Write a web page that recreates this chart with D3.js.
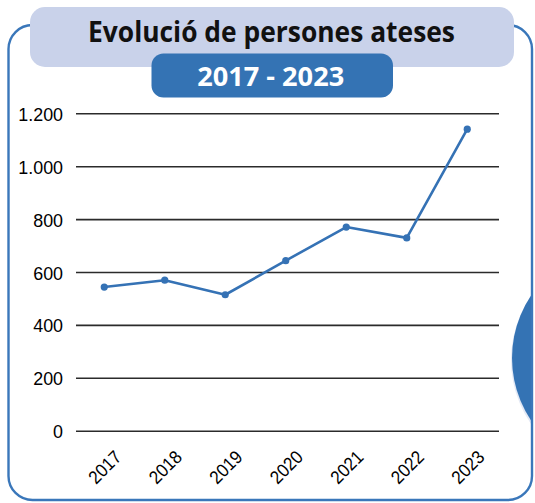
<!DOCTYPE html>
<html>
<head>
<meta charset="utf-8">
<script src="https://cdn.jsdelivr.net/npm/d3@7"></script>
<style>
  html, body { margin: 0; padding: 0; background: #ffffff; }
  svg { display: block; }
</style>
</head>
<body>
<svg id="chart" width="535" height="503"></svg>
<script>
// ---- Data ----
const titleText = "Evolució de persones ateses";
const subtitleText = "2017 - 2023";
const years = ["2017", "2018", "2019", "2020", "2021", "2022", "2023"];
const persons = [543, 569, 514, 643, 770, 729, 1140];
const yTicks = [0, 200, 400, 600, 800, 1000, 1200];

// ---- Setup ----
const svg = d3.select("#chart");
const W = 535, H = 503;
const blue = "#3473b4";
const lavender = "#c9d2ea";

const caLocale = d3.formatLocale({ decimal: ",", thousands: ".", grouping: [3], currency: ["", " €"] });
const fmt = caLocale.format(",d");

// Decorative circle on the right edge
const deco = svg.append("g");
deco.append("clipPath").attr("id", "clipR")
  .append("rect").attr("x", 0).attr("y", 0).attr("width", 532).attr("height", H);
deco.append("circle").attr("cx", 623).attr("cy", 360).attr("r", 112)
  .attr("fill", "#e3e9f5").attr("clip-path", "url(#clipR)");
deco.append("circle").attr("cx", 624).attr("cy", 358).attr("r", 112)
  .attr("fill", blue).attr("clip-path", "url(#clipR)");

// Outer frame
svg.append("rect")
  .attr("x", 8.5).attr("y", 25).attr("width", 523.5).attr("height", 475)
  .attr("rx", 24).attr("ry", 24)
  .attr("fill", "none").attr("stroke", "#3a77ba").attr("stroke-width", 2.4);

// Title box
svg.append("rect")
  .attr("x", 30).attr("y", 7).attr("width", 484).attr("height", 60)
  .attr("rx", 15).attr("ry", 15).attr("fill", lavender);
svg.append("text")
  .attr("x", 271.5).attr("y", 41.5)
  .attr("text-anchor", "middle")
  .style("font-family", "'Open Sans', 'Noto Sans', sans-serif")
  .style("font-weight", "bold").style("font-size", "28px")
  .attr("textLength", 367).attr("lengthAdjust", "spacingAndGlyphs")
  .attr("fill", "#111").text(titleText);

// Subtitle box
svg.append("rect")
  .attr("x", 151.5).attr("y", 53.5).attr("width", 241.5).attr("height", 44)
  .attr("rx", 12).attr("ry", 12).attr("fill", blue);
svg.append("text")
  .attr("x", 270.7).attr("y", 85.7)
  .attr("text-anchor", "middle")
  .style("font-family", "'Open Sans', 'Noto Sans', sans-serif")
  .style("font-weight", "bold").style("font-size", "26px")
  .attr("textLength", 147).attr("lengthAdjust", "spacingAndGlyphs")
  .attr("fill", "#ffffff").text(subtitleText);

// ---- Scales ----
const x = d3.scalePoint().domain(years).range([74, 497.5]).padding(0.5);
const y = d3.scaleLinear().domain([0, 1200]).range([430.7, 113.3]);

function condense(sel, k) {
  sel.each(function () {
    const w = this.getComputedTextLength();
    d3.select(this).attr("textLength", w * k).attr("lengthAdjust", "spacingAndGlyphs");
  });
}

// Gridlines + y labels via axis
const yAxis = d3.axisLeft(y).tickValues(yTicks).tickFormat(fmt)
  .tickSize(-423).tickPadding(13);
const gy = svg.append("g").attr("transform", "translate(76,0)").call(yAxis)
  .attr("font-size", null).attr("font-family", null);
gy.select(".domain").remove();
gy.selectAll(".tick line").attr("stroke", "#2b2b2b").attr("stroke-width", 1.6);
gy.selectAll(".tick text")
  .style("font-family", "'Liberation Sans', Arial, sans-serif")
  .style("font-size", "19px").attr("fill", "#000")
  .attr("dy", "0.37em")
  .call(condense, 0.94);

// X labels via axis (rotated, centered under each point)
const xAxis = d3.axisBottom(x).tickSize(0).tickPadding(0);
const gx = svg.append("g").attr("transform", "translate(0,467)").call(xAxis)
  .attr("font-size", null).attr("font-family", null);
gx.select(".domain").remove();
gx.selectAll(".tick text")
  .style("font-family", "'Liberation Sans', Arial, sans-serif")
  .style("font-size", "18.5px").attr("fill", "#000")
  .attr("text-anchor", "middle")
  .attr("y", 0).attr("dy", "0.35em")
  .attr("transform", "rotate(-45)")
  .call(condense, 0.92);

// Line
const line = d3.line().x((d, i) => x(years[i])).y(d => y(d));
svg.append("path").datum(persons)
  .attr("d", line).attr("fill", "none")
  .attr("stroke", "#3572b5").attr("stroke-width", 2.6)
  .attr("stroke-linejoin", "round");
svg.append("g").selectAll("circle").data(persons).join("circle")
  .attr("cx", (d, i) => x(years[i])).attr("cy", d => y(d))
  .attr("r", 3.6).attr("fill", "#3572b5");
</script>
</body>
</html>
